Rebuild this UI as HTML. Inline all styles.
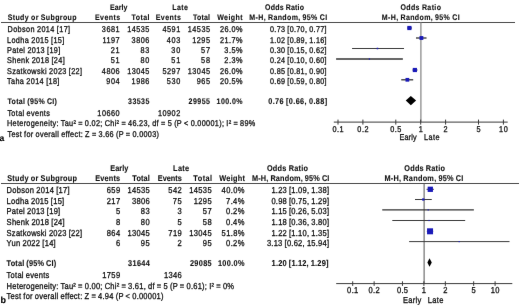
<!DOCTYPE html>
<html><head><meta charset="utf-8"><style>
html,body{margin:0;padding:0;background:#fff;}
body{width:520px;height:308px;overflow:hidden;}
svg{display:block;font-family:"Liberation Sans",sans-serif;text-rendering:geometricPrecision;}
</style></head><body>
<svg width="520" height="308" viewBox="0 0 520 308">
<defs><filter id="bl" x="0" y="0" width="100%" height="100%" color-interpolation-filters="sRGB"><feConvolveMatrix order="3" kernelMatrix="0.00163 0.03713 0.00163 0.03713 0.84497 0.03713 0.00163 0.03713 0.00163" divisor="1" edgeMode="duplicate" preserveAlpha="true"/></filter></defs>
<rect width="520" height="308" fill="#fff"/>
<g filter="url(#bl)">
<rect width="520" height="308" fill="#fff"/>
<text transform="translate(109.9,10.10) scale(0.87,1)" font-size="8.09" text-anchor="start" font-weight="bold" fill="#111" word-spacing="-0.4" stroke="#111" stroke-width="0.12" textLength="20.24" lengthAdjust="spacing">Early</text>
<text transform="translate(172.2,10.10) scale(0.87,1)" font-size="8.09" text-anchor="start" font-weight="bold" fill="#111" word-spacing="-0.4" stroke="#111" stroke-width="0.12" textLength="18.18" lengthAdjust="spacing">Late</text>
<text transform="translate(265.1,10.10) scale(0.87,1)" font-size="8.09" text-anchor="start" font-weight="bold" fill="#111" word-spacing="-0.4" stroke="#111" stroke-width="0.12" textLength="44.72" lengthAdjust="spacing">Odds Ratio</text>
<text transform="translate(420.7,10.10) scale(0.87,1)" font-size="8.09" text-anchor="middle" font-weight="bold" fill="#111" word-spacing="-0.4" stroke="#111" stroke-width="0.12" textLength="46.68" lengthAdjust="spacing">Odds Ratio</text>
<text transform="translate(7.7,20.20) scale(0.87,1)" font-size="8.09" text-anchor="start" font-weight="bold" fill="#111" word-spacing="-0.4" stroke="#111" stroke-width="0.12" textLength="79.09" lengthAdjust="spacing">Study or Subgroup</text>
<text transform="translate(120.2,20.20) scale(0.87,1)" font-size="8.09" text-anchor="end" font-weight="bold" fill="#111" word-spacing="-0.4" stroke="#111" stroke-width="0.12" textLength="28.99" lengthAdjust="spacing">Events</text>
<text transform="translate(149.4,20.20) scale(0.87,1)" font-size="8.09" text-anchor="end" font-weight="bold" fill="#111" word-spacing="-0.4" stroke="#111" stroke-width="0.12" textLength="20.46" lengthAdjust="spacing">Total</text>
<text transform="translate(180.9,20.20) scale(0.87,1)" font-size="8.09" text-anchor="end" font-weight="bold" fill="#111" word-spacing="-0.4" stroke="#111" stroke-width="0.12" textLength="28.99" lengthAdjust="spacing">Events</text>
<text transform="translate(210.0,20.20) scale(0.87,1)" font-size="8.09" text-anchor="end" font-weight="bold" fill="#111" word-spacing="-0.4" stroke="#111" stroke-width="0.12" textLength="19.43" lengthAdjust="spacing">Total</text>
<text transform="translate(242.6,20.20) scale(0.87,1)" font-size="8.09" text-anchor="end" font-weight="bold" fill="#111" word-spacing="-0.4" stroke="#111" stroke-width="0.12" textLength="29.29" lengthAdjust="spacing">Weight</text>
<text transform="translate(327.1,20.20) scale(0.87,1)" font-size="8.09" text-anchor="end" font-weight="bold" fill="#111" word-spacing="-0.4" stroke="#111" stroke-width="0.12" textLength="89.46" lengthAdjust="spacing">M-H, Random, 95% CI</text>
<text transform="translate(420.7,20.20) scale(0.87,1)" font-size="8.09" text-anchor="middle" font-weight="bold" fill="#111" word-spacing="-0.4" stroke="#111" stroke-width="0.12" textLength="89.46" lengthAdjust="spacing">M-H, Random, 95% CI</text>
<line x1="1" y1="22.5" x2="515" y2="22.5" stroke="#4a4a4a" stroke-width="1"/>
<line x1="420.9" y1="22.5" x2="420.9" y2="122.1" stroke="#8c8c8c" stroke-width="1.3"/>
<text transform="translate(7.5,32.35) scale(0.87,1)" font-size="8.40" text-anchor="start" fill="#111" word-spacing="-0.28" stroke="#111" stroke-width="0.3" textLength="71.96" lengthAdjust="spacing">Dobson 2014 [17]</text>
<text transform="translate(119.6,32.35) scale(0.87,1)" font-size="8.40" text-anchor="end" fill="#111" word-spacing="-0.28" stroke="#111" stroke-width="0.3" textLength="20.46" lengthAdjust="spacing">3681</text>
<text transform="translate(149.4,32.35) scale(0.87,1)" font-size="8.40" text-anchor="end" fill="#111" word-spacing="-0.28" stroke="#111" stroke-width="0.3" textLength="25.57" lengthAdjust="spacing">14535</text>
<text transform="translate(180.2,32.35) scale(0.87,1)" font-size="8.40" text-anchor="end" fill="#111" word-spacing="-0.28" stroke="#111" stroke-width="0.3" textLength="20.46" lengthAdjust="spacing">4591</text>
<text transform="translate(210.0,32.35) scale(0.87,1)" font-size="8.40" text-anchor="end" fill="#111" word-spacing="-0.28" stroke="#111" stroke-width="0.3" textLength="25.57" lengthAdjust="spacing">14535</text>
<text transform="translate(242.6,32.35) scale(0.87,1)" font-size="8.40" text-anchor="end" fill="#111" word-spacing="-0.28" stroke="#111" stroke-width="0.3" textLength="26.08" lengthAdjust="spacing">26.0%</text>
<text transform="translate(326.5,32.35) scale(0.87,1)" font-size="8.29" text-anchor="end" fill="#111" word-spacing="-0.28" stroke="#111" stroke-width="0.3" textLength="64.92" lengthAdjust="spacing">0.73 [0.70, 0.77]</text>
<line x1="407.389607909179" y1="28.0" x2="411.81278297176425" y2="28.0" stroke="#333" stroke-width="1.3"/>
<rect x="407.29680053196165" y="25.9" width="4.2" height="4.2" fill="#1a1ab8"/>
<text transform="translate(7.0,42.71) scale(0.87,1)" font-size="8.40" text-anchor="start" fill="#111" word-spacing="-0.28" stroke="#111" stroke-width="0.3" textLength="65.84" lengthAdjust="spacing">Lodha 2015 [15]</text>
<text transform="translate(119.6,42.71) scale(0.87,1)" font-size="8.40" text-anchor="end" fill="#111" word-spacing="-0.28" stroke="#111" stroke-width="0.3" textLength="19.77" lengthAdjust="spacing">1197</text>
<text transform="translate(149.4,42.71) scale(0.87,1)" font-size="8.40" text-anchor="end" fill="#111" word-spacing="-0.28" stroke="#111" stroke-width="0.3" textLength="20.46" lengthAdjust="spacing">3806</text>
<text transform="translate(180.2,42.71) scale(0.87,1)" font-size="8.40" text-anchor="end" fill="#111" word-spacing="-0.28" stroke="#111" stroke-width="0.3" textLength="15.36" lengthAdjust="spacing">403</text>
<text transform="translate(210.0,42.71) scale(0.87,1)" font-size="8.40" text-anchor="end" fill="#111" word-spacing="-0.28" stroke="#111" stroke-width="0.3" textLength="20.46" lengthAdjust="spacing">1295</text>
<text transform="translate(242.6,42.71) scale(0.87,1)" font-size="8.40" text-anchor="end" fill="#111" word-spacing="-0.28" stroke="#111" stroke-width="0.3" textLength="26.08" lengthAdjust="spacing">21.7%</text>
<text transform="translate(326.5,42.71) scale(0.87,1)" font-size="8.29" text-anchor="end" fill="#111" word-spacing="-0.28" stroke="#111" stroke-width="0.3" textLength="64.92" lengthAdjust="spacing">1.02 [0.89, 1.16]</text>
<line x1="416.0145535495343" y1="38.0" x2="426.53067570906614" y2="38.0" stroke="#333" stroke-width="1.3"/>
<rect x="419.4927311825201" y="36.081496977809564" width="3.837006044380877" height="3.837006044380877" fill="#1a1ab8"/>
<text transform="translate(7.0,53.07) scale(0.87,1)" font-size="8.40" text-anchor="start" fill="#111" word-spacing="-0.28" stroke="#111" stroke-width="0.3" textLength="61.22" lengthAdjust="spacing">Patel 2013 [19]</text>
<text transform="translate(119.6,53.07) scale(0.87,1)" font-size="8.40" text-anchor="end" fill="#111" word-spacing="-0.28" stroke="#111" stroke-width="0.3" textLength="10.24" lengthAdjust="spacing">21</text>
<text transform="translate(149.4,53.07) scale(0.87,1)" font-size="8.40" text-anchor="end" fill="#111" word-spacing="-0.28" stroke="#111" stroke-width="0.3" textLength="10.24" lengthAdjust="spacing">83</text>
<text transform="translate(180.2,53.07) scale(0.87,1)" font-size="8.40" text-anchor="end" fill="#111" word-spacing="-0.28" stroke="#111" stroke-width="0.3" textLength="10.24" lengthAdjust="spacing">30</text>
<text transform="translate(210.0,53.07) scale(0.87,1)" font-size="8.40" text-anchor="end" fill="#111" word-spacing="-0.28" stroke="#111" stroke-width="0.3" textLength="10.24" lengthAdjust="spacing">57</text>
<text transform="translate(242.6,53.07) scale(0.87,1)" font-size="8.40" text-anchor="end" fill="#111" word-spacing="-0.28" stroke="#111" stroke-width="0.3" textLength="20.96" lengthAdjust="spacing">3.5%</text>
<text transform="translate(326.5,53.07) scale(0.87,1)" font-size="8.29" text-anchor="end" fill="#111" word-spacing="-0.28" stroke="#111" stroke-width="0.3" textLength="64.92" lengthAdjust="spacing">0.30 [0.15, 0.62]</text>
<line x1="352.06274712390484" y1="48.5" x2="404.0307927215056" y2="48.5" stroke="#3a3a3a" stroke-width="1"/>
<rect x="376.68743841032546" y="47.72951064500939" width="1.5409787099812198" height="1.5409787099812198" fill="#1a1ab8"/>
<text transform="translate(7.0,63.43) scale(0.87,1)" font-size="8.40" text-anchor="start" fill="#111" word-spacing="-0.28" stroke="#111" stroke-width="0.3" textLength="66.34" lengthAdjust="spacing">Shenk 2018 [24]</text>
<text transform="translate(119.6,63.43) scale(0.87,1)" font-size="8.40" text-anchor="end" fill="#111" word-spacing="-0.28" stroke="#111" stroke-width="0.3" textLength="10.24" lengthAdjust="spacing">51</text>
<text transform="translate(149.4,63.43) scale(0.87,1)" font-size="8.40" text-anchor="end" fill="#111" word-spacing="-0.28" stroke="#111" stroke-width="0.3" textLength="10.24" lengthAdjust="spacing">80</text>
<text transform="translate(180.2,63.43) scale(0.87,1)" font-size="8.40" text-anchor="end" fill="#111" word-spacing="-0.28" stroke="#111" stroke-width="0.3" textLength="10.24" lengthAdjust="spacing">51</text>
<text transform="translate(210.0,63.43) scale(0.87,1)" font-size="8.40" text-anchor="end" fill="#111" word-spacing="-0.28" stroke="#111" stroke-width="0.3" textLength="10.24" lengthAdjust="spacing">58</text>
<text transform="translate(242.6,63.43) scale(0.87,1)" font-size="8.40" text-anchor="end" fill="#111" word-spacing="-0.28" stroke="#111" stroke-width="0.3" textLength="20.96" lengthAdjust="spacing">2.3%</text>
<text transform="translate(326.5,63.43) scale(0.87,1)" font-size="8.29" text-anchor="end" fill="#111" word-spacing="-0.28" stroke="#111" stroke-width="0.3" textLength="64.92" lengthAdjust="spacing">0.24 [0.10, 0.60]</text>
<line x1="336.10857845752713" y1="59.0" x2="402.8531084067273" y2="59.0" stroke="#333" stroke-width="1.3"/>
<rect x="368.81887751491473" y="58.37540782536492" width="1.2491843492701702" height="1.2491843492701702" fill="#1a1ab8"/>
<text transform="translate(7.0,73.79) scale(0.87,1)" font-size="8.40" text-anchor="start" fill="#111" word-spacing="-0.28" stroke="#111" stroke-width="0.3" textLength="86.26" lengthAdjust="spacing">Szatkowski 2023 [22]</text>
<text transform="translate(119.6,73.79) scale(0.87,1)" font-size="8.40" text-anchor="end" fill="#111" word-spacing="-0.28" stroke="#111" stroke-width="0.3" textLength="20.46" lengthAdjust="spacing">4806</text>
<text transform="translate(149.4,73.79) scale(0.87,1)" font-size="8.40" text-anchor="end" fill="#111" word-spacing="-0.28" stroke="#111" stroke-width="0.3" textLength="25.57" lengthAdjust="spacing">13045</text>
<text transform="translate(180.2,73.79) scale(0.87,1)" font-size="8.40" text-anchor="end" fill="#111" word-spacing="-0.28" stroke="#111" stroke-width="0.3" textLength="20.46" lengthAdjust="spacing">5297</text>
<text transform="translate(210.0,73.79) scale(0.87,1)" font-size="8.40" text-anchor="end" fill="#111" word-spacing="-0.28" stroke="#111" stroke-width="0.3" textLength="25.57" lengthAdjust="spacing">13045</text>
<text transform="translate(242.6,73.79) scale(0.87,1)" font-size="8.40" text-anchor="end" fill="#111" word-spacing="-0.28" stroke="#111" stroke-width="0.3" textLength="26.08" lengthAdjust="spacing">26.0%</text>
<text transform="translate(326.5,73.79) scale(0.87,1)" font-size="8.29" text-anchor="end" fill="#111" word-spacing="-0.28" stroke="#111" stroke-width="0.3" textLength="64.92" lengthAdjust="spacing">0.85 [0.81, 0.90]</text>
<line x1="412.6317110612643" y1="70.0" x2="417.41585553063214" y2="70.0" stroke="#333" stroke-width="1.3"/>
<rect x="412.76294515657196" y="67.9" width="4.2" height="4.2" fill="#1a1ab8"/>
<text transform="translate(7.0,84.15) scale(0.87,1)" font-size="8.40" text-anchor="start" fill="#111" word-spacing="-0.28" stroke="#111" stroke-width="0.3" textLength="60.20" lengthAdjust="spacing">Taha 2014 [18]</text>
<text transform="translate(119.6,84.15) scale(0.87,1)" font-size="8.40" text-anchor="end" fill="#111" word-spacing="-0.28" stroke="#111" stroke-width="0.3" textLength="15.36" lengthAdjust="spacing">904</text>
<text transform="translate(149.4,84.15) scale(0.87,1)" font-size="8.40" text-anchor="end" fill="#111" word-spacing="-0.28" stroke="#111" stroke-width="0.3" textLength="20.46" lengthAdjust="spacing">1986</text>
<text transform="translate(180.2,84.15) scale(0.87,1)" font-size="8.40" text-anchor="end" fill="#111" word-spacing="-0.28" stroke="#111" stroke-width="0.3" textLength="15.36" lengthAdjust="spacing">530</text>
<text transform="translate(210.0,84.15) scale(0.87,1)" font-size="8.40" text-anchor="end" fill="#111" word-spacing="-0.28" stroke="#111" stroke-width="0.3" textLength="15.36" lengthAdjust="spacing">965</text>
<text transform="translate(242.6,84.15) scale(0.87,1)" font-size="8.40" text-anchor="end" fill="#111" word-spacing="-0.28" stroke="#111" stroke-width="0.3" textLength="26.08" lengthAdjust="spacing">20.5%</text>
<text transform="translate(326.5,84.15) scale(0.87,1)" font-size="8.29" text-anchor="end" fill="#111" word-spacing="-0.28" stroke="#111" stroke-width="0.3" textLength="64.92" lengthAdjust="spacing">0.69 [0.59, 0.80]</text>
<line x1="401.24946136280533" y1="79.8" x2="413.18554192423375" y2="79.8" stroke="#333" stroke-width="1.3"/>
<rect x="405.5081173117178" y="77.93529750774677" width="3.729404984506448" height="3.729404984506448" fill="#1a1ab8"/>
<text transform="translate(7.5,103.80) scale(0.87,1)" font-size="8.09" text-anchor="start" font-weight="bold" fill="#111" word-spacing="-0.4" stroke="#111" stroke-width="0.12" textLength="56.86" lengthAdjust="spacing">Total (95% CI)</text>
<text transform="translate(149.4,103.80) scale(0.87,1)" font-size="8.09" text-anchor="end" font-weight="bold" fill="#111" word-spacing="-0.4" stroke="#111" stroke-width="0.12" textLength="24.59" lengthAdjust="spacing">33535</text>
<text transform="translate(210.0,103.80) scale(0.87,1)" font-size="8.09" text-anchor="end" font-weight="bold" fill="#111" word-spacing="-0.4" stroke="#111" stroke-width="0.12" textLength="24.59" lengthAdjust="spacing">29955</text>
<text transform="translate(242.6,103.80) scale(0.87,1)" font-size="8.09" text-anchor="end" font-weight="bold" fill="#111" word-spacing="-0.4" stroke="#111" stroke-width="0.12" textLength="29.97" lengthAdjust="spacing">100.0%</text>
<text transform="translate(327.1,103.80) scale(0.87,1)" font-size="8.40" text-anchor="end" font-weight="bold" fill="#111" word-spacing="-0.4" stroke="#111" stroke-width="0.12" textLength="67.61" lengthAdjust="spacing">0.76 [0.66, 0.88]</text>
<polygon points="405.77628346931255,100.6 410.84328408162145,95.89999999999999 416.10871698681893,100.6 410.84328408162145,105.3" fill="#000"/>
<text transform="translate(7.4,115.65) scale(0.87,1)" font-size="8.40" text-anchor="start" fill="#111" word-spacing="-0.28" stroke="#111" stroke-width="0.3" textLength="48.76" lengthAdjust="spacing">Total events</text>
<text transform="translate(119.6,115.65) scale(0.87,1)" font-size="8.40" text-anchor="end" fill="#111" word-spacing="-0.28" stroke="#111" stroke-width="0.3" textLength="25.57" lengthAdjust="spacing">10660</text>
<text transform="translate(180.2,115.65) scale(0.87,1)" font-size="8.40" text-anchor="end" fill="#111" word-spacing="-0.28" stroke="#111" stroke-width="0.3" textLength="25.57" lengthAdjust="spacing">10902</text>
<text transform="translate(7.0,126.25) scale(0.87,1)" font-size="8.40" text-anchor="start" fill="#111" word-spacing="-0.28" stroke="#111" stroke-width="0.3" textLength="285.45" lengthAdjust="spacing">Heterogeneity: Tau² = 0.02; Chi² = 46.23, df = 5 (P &lt; 0.00001); I² = 89%</text>
<text transform="translate(7.5,136.65) scale(0.87,1)" font-size="8.40" text-anchor="start" fill="#111" word-spacing="-0.28" stroke="#111" stroke-width="0.3" textLength="174.14" lengthAdjust="spacing">Test for overall effect: Z = 3.66 (P = 0.0003)</text>
<text x="-0.4" y="140.6" font-size="8.5" text-anchor="start" font-weight="bold" fill="#000" word-spacing="-0.4" stroke="#000" stroke-width="0.12">a</text>
<line x1="333.8" y1="122.1" x2="507.7" y2="122.1" stroke="#3a3a3a" stroke-width="1"/>
<line x1="338.0" y1="119.6" x2="338.0" y2="124.6" stroke="#3a3a3a" stroke-width="1"/>
<text transform="translate(338.0,131.75) scale(0.87,1)" font-size="8.40" text-anchor="middle" fill="#111" word-spacing="-0.28" stroke="#111" stroke-width="0.3" textLength="12.79" lengthAdjust="spacing">0.1</text>
<line x1="362.89518064141123" y1="119.6" x2="362.89518064141123" y2="124.6" stroke="#3a3a3a" stroke-width="1"/>
<text transform="translate(362.89518064141123,131.75) scale(0.87,1)" font-size="8.40" text-anchor="middle" fill="#111" word-spacing="-0.28" stroke="#111" stroke-width="0.3" textLength="12.79" lengthAdjust="spacing">0.2</text>
<line x1="395.80481935858876" y1="119.6" x2="395.80481935858876" y2="124.6" stroke="#3a3a3a" stroke-width="1"/>
<text transform="translate(395.80481935858876,131.75) scale(0.87,1)" font-size="8.40" text-anchor="middle" fill="#111" word-spacing="-0.28" stroke="#111" stroke-width="0.3" textLength="12.79" lengthAdjust="spacing">0.5</text>
<line x1="420.7" y1="119.6" x2="420.7" y2="124.6" stroke="#3a3a3a" stroke-width="1"/>
<text transform="translate(420.7,131.75) scale(0.87,1)" font-size="8.40" text-anchor="middle" fill="#111" word-spacing="-0.28" stroke="#111" stroke-width="0.3" textLength="5.12" lengthAdjust="spacing">1</text>
<line x1="445.5951806414112" y1="119.6" x2="445.5951806414112" y2="124.6" stroke="#3a3a3a" stroke-width="1"/>
<text transform="translate(445.5951806414112,131.75) scale(0.87,1)" font-size="8.40" text-anchor="middle" fill="#111" word-spacing="-0.28" stroke="#111" stroke-width="0.3" textLength="5.12" lengthAdjust="spacing">2</text>
<line x1="478.50481935858875" y1="119.6" x2="478.50481935858875" y2="124.6" stroke="#3a3a3a" stroke-width="1"/>
<text transform="translate(478.50481935858875,131.75) scale(0.87,1)" font-size="8.40" text-anchor="middle" fill="#111" word-spacing="-0.28" stroke="#111" stroke-width="0.3" textLength="5.12" lengthAdjust="spacing">5</text>
<line x1="503.4" y1="119.6" x2="503.4" y2="124.6" stroke="#3a3a3a" stroke-width="1"/>
<text transform="translate(503.4,131.75) scale(0.87,1)" font-size="8.40" text-anchor="middle" fill="#111" word-spacing="-0.28" stroke="#111" stroke-width="0.3" textLength="10.24" lengthAdjust="spacing">10</text>
<text transform="translate(399.4,140.45) scale(0.87,1)" font-size="8.40" text-anchor="start" fill="#111" word-spacing="-0.28" stroke="#111" stroke-width="0.3" textLength="19.80" lengthAdjust="spacing">Early</text>
<text transform="translate(424.0,140.45) scale(0.87,1)" font-size="8.40" text-anchor="start" fill="#111" word-spacing="-0.28" stroke="#111" stroke-width="0.3" textLength="17.91" lengthAdjust="spacing">Late</text>
<text transform="translate(110.3,171.10) scale(0.87,1)" font-size="8.42" text-anchor="start" font-weight="bold" fill="#111" word-spacing="-0.4" stroke="#111" stroke-width="0.12" textLength="20.67" lengthAdjust="spacing">Early</text>
<text transform="translate(173.1,171.10) scale(0.87,1)" font-size="8.42" text-anchor="start" font-weight="bold" fill="#111" word-spacing="-0.4" stroke="#111" stroke-width="0.12" textLength="18.44" lengthAdjust="spacing">Late</text>
<text transform="translate(266.9,171.10) scale(0.87,1)" font-size="8.42" text-anchor="start" font-weight="bold" fill="#111" word-spacing="-0.4" stroke="#111" stroke-width="0.12" textLength="47.34" lengthAdjust="spacing">Odds Ratio</text>
<text transform="translate(424.6,171.10) scale(0.87,1)" font-size="8.42" text-anchor="middle" font-weight="bold" fill="#111" word-spacing="-0.4" stroke="#111" stroke-width="0.12" textLength="46.66" lengthAdjust="spacing">Odds Ratio</text>
<text transform="translate(7.2,181.20) scale(0.87,1)" font-size="8.42" text-anchor="start" font-weight="bold" fill="#111" word-spacing="-0.4" stroke="#111" stroke-width="0.12" textLength="80.24" lengthAdjust="spacing">Study or Subgroup</text>
<text transform="translate(120.1,181.20) scale(0.87,1)" font-size="8.42" text-anchor="end" font-weight="bold" fill="#111" word-spacing="-0.4" stroke="#111" stroke-width="0.12" textLength="28.48" lengthAdjust="spacing">Events</text>
<text transform="translate(149.8,181.20) scale(0.87,1)" font-size="8.42" text-anchor="end" font-weight="bold" fill="#111" word-spacing="-0.4" stroke="#111" stroke-width="0.12" textLength="20.06" lengthAdjust="spacing">Total</text>
<text transform="translate(181.8,181.20) scale(0.87,1)" font-size="8.42" text-anchor="end" font-weight="bold" fill="#111" word-spacing="-0.4" stroke="#111" stroke-width="0.12" textLength="27.56" lengthAdjust="spacing">Events</text>
<text transform="translate(212.1,181.20) scale(0.87,1)" font-size="8.42" text-anchor="end" font-weight="bold" fill="#111" word-spacing="-0.4" stroke="#111" stroke-width="0.12" textLength="21.55" lengthAdjust="spacing">Total</text>
<text transform="translate(245.0,181.20) scale(0.87,1)" font-size="8.42" text-anchor="end" font-weight="bold" fill="#111" word-spacing="-0.4" stroke="#111" stroke-width="0.12" textLength="29.71" lengthAdjust="spacing">Weight</text>
<text transform="translate(329.4,181.20) scale(0.87,1)" font-size="8.42" text-anchor="end" font-weight="bold" fill="#111" word-spacing="-0.4" stroke="#111" stroke-width="0.12" textLength="89.02" lengthAdjust="spacing">M-H, Random, 95% CI</text>
<text transform="translate(423.9,181.20) scale(0.87,1)" font-size="8.42" text-anchor="middle" font-weight="bold" fill="#111" word-spacing="-0.4" stroke="#111" stroke-width="0.12" textLength="90.75" lengthAdjust="spacing">M-H, Random, 95% CI</text>
<line x1="1" y1="183.5" x2="519" y2="183.5" stroke="#4a4a4a" stroke-width="1"/>
<line x1="424.1" y1="183.5" x2="424.1" y2="283.6" stroke="#555" stroke-width="1.0"/>
<text transform="translate(6.6,193.30) scale(0.87,1)" font-size="8.69" text-anchor="start" fill="#111" word-spacing="-0.28" stroke="#111" stroke-width="0.3" textLength="72.40" lengthAdjust="spacing">Dobson 2014 [17]</text>
<text transform="translate(120.1,193.30) scale(0.87,1)" font-size="8.69" text-anchor="end" fill="#111" word-spacing="-0.28" stroke="#111" stroke-width="0.3" textLength="15.45" lengthAdjust="spacing">659</text>
<text transform="translate(149.8,193.30) scale(0.87,1)" font-size="8.69" text-anchor="end" fill="#111" word-spacing="-0.28" stroke="#111" stroke-width="0.3" textLength="25.74" lengthAdjust="spacing">14535</text>
<text transform="translate(181.8,193.30) scale(0.87,1)" font-size="8.69" text-anchor="end" fill="#111" word-spacing="-0.28" stroke="#111" stroke-width="0.3" textLength="15.45" lengthAdjust="spacing">542</text>
<text transform="translate(211.6,193.30) scale(0.87,1)" font-size="8.69" text-anchor="end" fill="#111" word-spacing="-0.28" stroke="#111" stroke-width="0.3" textLength="25.74" lengthAdjust="spacing">14535</text>
<text transform="translate(244.4,193.30) scale(0.87,1)" font-size="8.69" text-anchor="end" fill="#111" word-spacing="-0.28" stroke="#111" stroke-width="0.3" textLength="26.24" lengthAdjust="spacing">40.0%</text>
<text transform="translate(329.0,193.30) scale(0.87,1)" font-size="8.69" text-anchor="end" fill="#111" word-spacing="-0.28" stroke="#111" stroke-width="0.3" textLength="66.22" lengthAdjust="spacing">1.23 [1.09, 1.38]</text>
<line x1="426.5647666533724" y1="189.3" x2="433.85939095176803" y2="189.3" stroke="#3a3a3a" stroke-width="1"/>
<rect x="427.66499528350266" y="186.66375134901753" width="5.272497301964961" height="5.272497301964961" fill="#1a1ab8"/>
<text transform="translate(6.6,203.85) scale(0.87,1)" font-size="8.69" text-anchor="start" fill="#111" word-spacing="-0.28" stroke="#111" stroke-width="0.3" textLength="66.24" lengthAdjust="spacing">Lodha 2015 [15]</text>
<text transform="translate(120.1,203.85) scale(0.87,1)" font-size="8.69" text-anchor="end" fill="#111" word-spacing="-0.28" stroke="#111" stroke-width="0.3" textLength="15.45" lengthAdjust="spacing">217</text>
<text transform="translate(149.8,203.85) scale(0.87,1)" font-size="8.69" text-anchor="end" fill="#111" word-spacing="-0.28" stroke="#111" stroke-width="0.3" textLength="20.58" lengthAdjust="spacing">3806</text>
<text transform="translate(181.8,203.85) scale(0.87,1)" font-size="8.69" text-anchor="end" fill="#111" word-spacing="-0.28" stroke="#111" stroke-width="0.3" textLength="10.29" lengthAdjust="spacing">75</text>
<text transform="translate(211.6,203.85) scale(0.87,1)" font-size="8.69" text-anchor="end" fill="#111" word-spacing="-0.28" stroke="#111" stroke-width="0.3" textLength="20.58" lengthAdjust="spacing">1295</text>
<text transform="translate(244.4,203.85) scale(0.87,1)" font-size="8.69" text-anchor="end" fill="#111" word-spacing="-0.28" stroke="#111" stroke-width="0.3" textLength="21.08" lengthAdjust="spacing">7.4%</text>
<text transform="translate(329.0,203.85) scale(0.87,1)" font-size="8.69" text-anchor="end" fill="#111" word-spacing="-0.28" stroke="#111" stroke-width="0.3" textLength="66.22" lengthAdjust="spacing">0.98 [0.75, 1.29]</text>
<line x1="415.004361953489" y1="199.5" x2="431.7739873733065" y2="199.5" stroke="#3a3a3a" stroke-width="1"/>
<rect x="422.1414031702779" y="198.3661065809723" width="2.2677868380553634" height="2.2677868380553634" fill="#1a1ab8"/>
<text transform="translate(6.6,214.40) scale(0.87,1)" font-size="8.69" text-anchor="start" fill="#111" word-spacing="-0.28" stroke="#111" stroke-width="0.3" textLength="61.58" lengthAdjust="spacing">Patel 2013 [19]</text>
<text transform="translate(120.1,214.40) scale(0.87,1)" font-size="8.69" text-anchor="end" fill="#111" word-spacing="-0.28" stroke="#111" stroke-width="0.3" textLength="5.15" lengthAdjust="spacing">5</text>
<text transform="translate(149.8,214.40) scale(0.87,1)" font-size="8.69" text-anchor="end" fill="#111" word-spacing="-0.28" stroke="#111" stroke-width="0.3" textLength="10.29" lengthAdjust="spacing">83</text>
<text transform="translate(181.8,214.40) scale(0.87,1)" font-size="8.69" text-anchor="end" fill="#111" word-spacing="-0.28" stroke="#111" stroke-width="0.3" textLength="5.15" lengthAdjust="spacing">3</text>
<text transform="translate(211.6,214.40) scale(0.87,1)" font-size="8.69" text-anchor="end" fill="#111" word-spacing="-0.28" stroke="#111" stroke-width="0.3" textLength="10.29" lengthAdjust="spacing">57</text>
<text transform="translate(244.4,214.40) scale(0.87,1)" font-size="8.69" text-anchor="end" fill="#111" word-spacing="-0.28" stroke="#111" stroke-width="0.3" textLength="21.08" lengthAdjust="spacing">0.2%</text>
<text transform="translate(329.0,214.40) scale(0.87,1)" font-size="8.69" text-anchor="end" fill="#111" word-spacing="-0.28" stroke="#111" stroke-width="0.3" textLength="66.22" lengthAdjust="spacing">1.15 [0.26, 5.03]</text>
<line x1="382.24610237552224" y1="209.9" x2="473.851640535982" y2="209.9" stroke="#333" stroke-width="1.3"/>
<rect x="427.6216862331771" y="209.3" width="1.2" height="1.2" fill="#1a1ab8"/>
<text transform="translate(6.6,224.95) scale(0.87,1)" font-size="8.69" text-anchor="start" fill="#111" word-spacing="-0.28" stroke="#111" stroke-width="0.3" textLength="66.74" lengthAdjust="spacing">Shenk 2018 [24]</text>
<text transform="translate(120.1,224.95) scale(0.87,1)" font-size="8.69" text-anchor="end" fill="#111" word-spacing="-0.28" stroke="#111" stroke-width="0.3" textLength="5.15" lengthAdjust="spacing">8</text>
<text transform="translate(149.8,224.95) scale(0.87,1)" font-size="8.69" text-anchor="end" fill="#111" word-spacing="-0.28" stroke="#111" stroke-width="0.3" textLength="10.29" lengthAdjust="spacing">80</text>
<text transform="translate(181.8,224.95) scale(0.87,1)" font-size="8.69" text-anchor="end" fill="#111" word-spacing="-0.28" stroke="#111" stroke-width="0.3" textLength="5.15" lengthAdjust="spacing">5</text>
<text transform="translate(211.6,224.95) scale(0.87,1)" font-size="8.69" text-anchor="end" fill="#111" word-spacing="-0.28" stroke="#111" stroke-width="0.3" textLength="10.29" lengthAdjust="spacing">58</text>
<text transform="translate(244.4,224.95) scale(0.87,1)" font-size="8.69" text-anchor="end" fill="#111" word-spacing="-0.28" stroke="#111" stroke-width="0.3" textLength="21.08" lengthAdjust="spacing">0.4%</text>
<text transform="translate(329.0,224.95) scale(0.87,1)" font-size="8.69" text-anchor="end" fill="#111" word-spacing="-0.28" stroke="#111" stroke-width="0.3" textLength="66.22" lengthAdjust="spacing">1.18 [0.36, 3.80]</text>
<line x1="392.30873805463085" y1="220.5" x2="465.1805920791169" y2="220.5" stroke="#3a3a3a" stroke-width="1"/>
<rect x="428.41799892019606" y="219.9" width="1.2" height="1.2" fill="#1a1ab8"/>
<text transform="translate(6.6,235.50) scale(0.87,1)" font-size="8.69" text-anchor="start" fill="#111" word-spacing="-0.28" stroke="#111" stroke-width="0.3" textLength="86.76" lengthAdjust="spacing">Szatkowski 2023 [22]</text>
<text transform="translate(120.1,235.50) scale(0.87,1)" font-size="8.69" text-anchor="end" fill="#111" word-spacing="-0.28" stroke="#111" stroke-width="0.3" textLength="15.45" lengthAdjust="spacing">864</text>
<text transform="translate(149.8,235.50) scale(0.87,1)" font-size="8.69" text-anchor="end" fill="#111" word-spacing="-0.28" stroke="#111" stroke-width="0.3" textLength="25.74" lengthAdjust="spacing">13045</text>
<text transform="translate(181.8,235.50) scale(0.87,1)" font-size="8.69" text-anchor="end" fill="#111" word-spacing="-0.28" stroke="#111" stroke-width="0.3" textLength="15.45" lengthAdjust="spacing">719</text>
<text transform="translate(211.6,235.50) scale(0.87,1)" font-size="8.69" text-anchor="end" fill="#111" word-spacing="-0.28" stroke="#111" stroke-width="0.3" textLength="25.74" lengthAdjust="spacing">13045</text>
<text transform="translate(244.4,235.50) scale(0.87,1)" font-size="8.69" text-anchor="end" fill="#111" word-spacing="-0.28" stroke="#111" stroke-width="0.3" textLength="26.24" lengthAdjust="spacing">51.8%</text>
<text transform="translate(329.0,235.50) scale(0.87,1)" font-size="8.69" text-anchor="end" fill="#111" word-spacing="-0.28" stroke="#111" stroke-width="0.3" textLength="66.22" lengthAdjust="spacing">1.22 [1.10, 1.35]</text>
<line x1="426.8471591832656" y1="231.3" x2="433.1797643168444" y2="231.3" stroke="#3a3a3a" stroke-width="1"/>
<rect x="427.04881994404207" y="228.3" width="6.0" height="6.0" fill="#1a1ab8"/>
<text transform="translate(6.6,246.05) scale(0.87,1)" font-size="8.69" text-anchor="start" fill="#111" word-spacing="-0.28" stroke="#111" stroke-width="0.3" textLength="56.45" lengthAdjust="spacing">Yun 2022 [14]</text>
<text transform="translate(120.1,246.05) scale(0.87,1)" font-size="8.69" text-anchor="end" fill="#111" word-spacing="-0.28" stroke="#111" stroke-width="0.3" textLength="5.15" lengthAdjust="spacing">6</text>
<text transform="translate(149.8,246.05) scale(0.87,1)" font-size="8.69" text-anchor="end" fill="#111" word-spacing="-0.28" stroke="#111" stroke-width="0.3" textLength="10.29" lengthAdjust="spacing">95</text>
<text transform="translate(181.8,246.05) scale(0.87,1)" font-size="8.69" text-anchor="end" fill="#111" word-spacing="-0.28" stroke="#111" stroke-width="0.3" textLength="5.15" lengthAdjust="spacing">2</text>
<text transform="translate(211.6,246.05) scale(0.87,1)" font-size="8.69" text-anchor="end" fill="#111" word-spacing="-0.28" stroke="#111" stroke-width="0.3" textLength="10.29" lengthAdjust="spacing">95</text>
<text transform="translate(244.4,246.05) scale(0.87,1)" font-size="8.69" text-anchor="end" fill="#111" word-spacing="-0.28" stroke="#111" stroke-width="0.3" textLength="21.08" lengthAdjust="spacing">0.2%</text>
<text transform="translate(329.0,246.05) scale(0.87,1)" font-size="8.69" text-anchor="end" fill="#111" word-spacing="-0.28" stroke="#111" stroke-width="0.3" textLength="71.37" lengthAdjust="spacing">3.13 [0.62, 15.94]</text>
<line x1="409.1182882922757" y1="241.6" x2="509.51716817467866" y2="241.6" stroke="#3a3a3a" stroke-width="1"/>
<rect x="458.5827568333071" y="241.0" width="1.2" height="1.2" fill="#1a1ab8"/>
<text transform="translate(6.6,265.80) scale(0.87,1)" font-size="8.42" text-anchor="start" font-weight="bold" fill="#111" word-spacing="-0.4" stroke="#111" stroke-width="0.12" textLength="56.89" lengthAdjust="spacing">Total (95% CI)</text>
<text transform="translate(149.8,265.80) scale(0.87,1)" font-size="8.42" text-anchor="end" font-weight="bold" fill="#111" word-spacing="-0.4" stroke="#111" stroke-width="0.12" textLength="24.93" lengthAdjust="spacing">31644</text>
<text transform="translate(211.6,265.80) scale(0.87,1)" font-size="8.42" text-anchor="end" font-weight="bold" fill="#111" word-spacing="-0.4" stroke="#111" stroke-width="0.12" textLength="24.93" lengthAdjust="spacing">29085</text>
<text transform="translate(244.4,265.80) scale(0.87,1)" font-size="8.42" text-anchor="end" font-weight="bold" fill="#111" word-spacing="-0.4" stroke="#111" stroke-width="0.12" textLength="30.41" lengthAdjust="spacing">100.0%</text>
<text transform="translate(328.5,265.80) scale(0.87,1)" font-size="8.64" text-anchor="end" font-weight="bold" fill="#111" word-spacing="-0.4" stroke="#111" stroke-width="0.12" textLength="65.43" lengthAdjust="spacing">1.20 [1.12, 1.29]</text>
<polygon points="427.4043232141169,262.5 429.5377047185909,258.2 431.7739873733065,262.5 429.5377047185909,266.8" fill="#000"/>
<text transform="translate(6.6,277.70) scale(0.87,1)" font-size="8.69" text-anchor="start" fill="#111" word-spacing="-0.28" stroke="#111" stroke-width="0.3" textLength="49.05" lengthAdjust="spacing">Total events</text>
<text transform="translate(120.1,277.70) scale(0.87,1)" font-size="8.69" text-anchor="end" fill="#111" word-spacing="-0.28" stroke="#111" stroke-width="0.3" textLength="20.58" lengthAdjust="spacing">1759</text>
<text transform="translate(181.8,277.70) scale(0.87,1)" font-size="8.69" text-anchor="end" fill="#111" word-spacing="-0.28" stroke="#111" stroke-width="0.3" textLength="20.58" lengthAdjust="spacing">1346</text>
<text transform="translate(6.6,288.50) scale(0.87,1)" font-size="8.69" text-anchor="start" fill="#111" word-spacing="-0.28" stroke="#111" stroke-width="0.3" textLength="261.42" lengthAdjust="spacing">Heterogeneity: Tau² = 0.00; Chi² = 3.61, df = 5 (P = 0.61); I² = 0%</text>
<text transform="translate(6.6,299.30) scale(0.87,1)" font-size="8.69" text-anchor="start" fill="#111" word-spacing="-0.28" stroke="#111" stroke-width="0.3" textLength="180.32" lengthAdjust="spacing">Test for overall effect: Z = 4.94 (P &lt; 0.00001)</text>
<text x="0.6" y="303.2" font-size="9.0" text-anchor="start" font-weight="bold" fill="#000" word-spacing="-0.4" stroke="#000" stroke-width="0.12">b</text>
<line x1="336.2" y1="283.6" x2="512.3" y2="283.6" stroke="#3a3a3a" stroke-width="1"/>
<line x1="352.7" y1="281.3" x2="352.7" y2="285.90000000000003" stroke="#3a3a3a" stroke-width="1"/>
<text transform="translate(352.7,293.30) scale(0.87,1)" font-size="8.69" text-anchor="middle" fill="#111" word-spacing="-0.28" stroke="#111" stroke-width="0.3" textLength="12.86" lengthAdjust="spacing">0.1</text>
<line x1="374.1333356912754" y1="281.3" x2="374.1333356912754" y2="285.90000000000003" stroke="#3a3a3a" stroke-width="1"/>
<text transform="translate(374.1333356912754,293.30) scale(0.87,1)" font-size="8.69" text-anchor="middle" fill="#111" word-spacing="-0.28" stroke="#111" stroke-width="0.3" textLength="12.86" lengthAdjust="spacing">0.2</text>
<line x1="402.4666643087245" y1="281.3" x2="402.4666643087245" y2="285.90000000000003" stroke="#3a3a3a" stroke-width="1"/>
<text transform="translate(402.4666643087245,293.30) scale(0.87,1)" font-size="8.69" text-anchor="middle" fill="#111" word-spacing="-0.28" stroke="#111" stroke-width="0.3" textLength="12.86" lengthAdjust="spacing">0.5</text>
<line x1="423.9" y1="281.3" x2="423.9" y2="285.90000000000003" stroke="#3a3a3a" stroke-width="1"/>
<text transform="translate(423.9,293.30) scale(0.87,1)" font-size="8.69" text-anchor="middle" fill="#111" word-spacing="-0.28" stroke="#111" stroke-width="0.3" textLength="5.15" lengthAdjust="spacing">1</text>
<line x1="445.33333569127547" y1="281.3" x2="445.33333569127547" y2="285.90000000000003" stroke="#3a3a3a" stroke-width="1"/>
<text transform="translate(445.33333569127547,293.30) scale(0.87,1)" font-size="8.69" text-anchor="middle" fill="#111" word-spacing="-0.28" stroke="#111" stroke-width="0.3" textLength="5.15" lengthAdjust="spacing">2</text>
<line x1="473.66666430872453" y1="281.3" x2="473.66666430872453" y2="285.90000000000003" stroke="#3a3a3a" stroke-width="1"/>
<text transform="translate(473.66666430872453,293.30) scale(0.87,1)" font-size="8.69" text-anchor="middle" fill="#111" word-spacing="-0.28" stroke="#111" stroke-width="0.3" textLength="5.15" lengthAdjust="spacing">5</text>
<line x1="495.09999999999997" y1="281.3" x2="495.09999999999997" y2="285.90000000000003" stroke="#3a3a3a" stroke-width="1"/>
<text transform="translate(495.09999999999997,293.30) scale(0.87,1)" font-size="8.69" text-anchor="middle" fill="#111" word-spacing="-0.28" stroke="#111" stroke-width="0.3" textLength="10.29" lengthAdjust="spacing">10</text>
<text transform="translate(403.0,302.90) scale(0.87,1)" font-size="8.69" text-anchor="start" fill="#111" word-spacing="-0.28" stroke="#111" stroke-width="0.3" textLength="21.08" lengthAdjust="spacing">Early</text>
<text transform="translate(427.7,302.90) scale(0.87,1)" font-size="8.69" text-anchor="start" fill="#111" word-spacing="-0.28" stroke="#111" stroke-width="0.3" textLength="18.01" lengthAdjust="spacing">Late</text>
</g>
</svg>
</body></html>
